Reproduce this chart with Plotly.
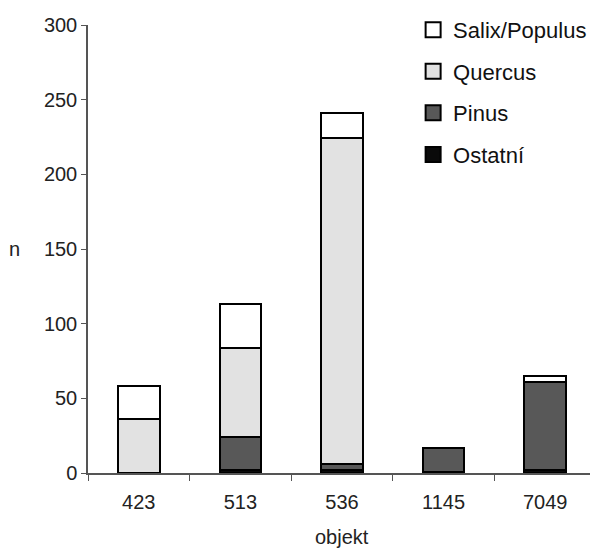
import plotly.graph_objects as go

categories = ["423", "513", "536", "1145", "7049"]
ostatni = [0, 2, 2, 1, 2]
pinus = [0, 22, 4, 16, 59]
quercus = [36, 60, 218, 0, 0]
salix = [22, 29, 17, 0, 4]
y_ticks = [0, 50, 100, 150, 200, 250, 300]

series = [
    ("Ostatní", ostatni, "#0a0a0a"),
    ("Pinus", pinus, "#585858"),
    ("Quercus", quercus, "#e2e2e2"),
    ("Salix/Populus", salix, "#ffffff"),
]

fig = go.Figure()
for i, (name, vals, col) in enumerate(series):
    fig.add_trace(go.Bar(
        x=categories, y=vals, name=name, showlegend=False,
        marker=dict(color=col, line=dict(color="#000000", width=2)),
        width=0.41,
    ))
# legend entries (square symbols), top to bottom: Salix, Quercus, Pinus, Ostatní
for rank, (name, vals, col) in enumerate(reversed(series)):
    fig.add_trace(go.Scatter(
        x=[None], y=[None], mode="markers", name=name,
        legendgroup=str(rank), legendrank=rank + 1,
        marker=dict(symbol="square", size=15, color=col,
                    line=dict(color="#000000", width=2)),
    ))

font = dict(family="Liberation Sans, Arial, sans-serif", size=20, color="#222222")
fig.update_layout(
    barmode="stack",
    width=588, height=540,
    margin=dict(l=80, r=0, t=17, b=75),
    paper_bgcolor="white", plot_bgcolor="white",
    font=font,
    showlegend=True,
    legend=dict(
        x=0.64, y=1.036, xanchor="left", yanchor="top",
        traceorder="grouped", tracegroupgap=10,
        font=dict(family="Liberation Sans, Arial, sans-serif", size=22, color="#111111"),
        bgcolor="rgba(0,0,0,0)", itemwidth=30,
    ),
    xaxis=dict(
        type="category", tickson="boundaries", ticks="outside", ticklen=6,
        tickcolor="#555555", showline=True, linecolor="#555555", linewidth=1.5,
        showgrid=False, tickfont=font, range=[-0.5, 4.5], ticklabelstandoff=10,
    ),
    yaxis=dict(
        range=[0, 300], tickvals=y_ticks, ticks="outside", ticklen=5,
        tickcolor="#555555", showline=True, linecolor="#555555", linewidth=1.5,
        showgrid=False, zeroline=False, tickfont=font,
    ),
    annotations=[
        dict(text="n", x=-0.144, y=0.5, xref="paper", yref="paper", showarrow=False,
             font=font, xanchor="center", yanchor="middle"),
        dict(text="objekt", x=0.5, y=-0.143, xref="paper", yref="paper",
             showarrow=False, font=font, xanchor="center", yanchor="middle"),
    ],
)

fig.write_html("out.html")
